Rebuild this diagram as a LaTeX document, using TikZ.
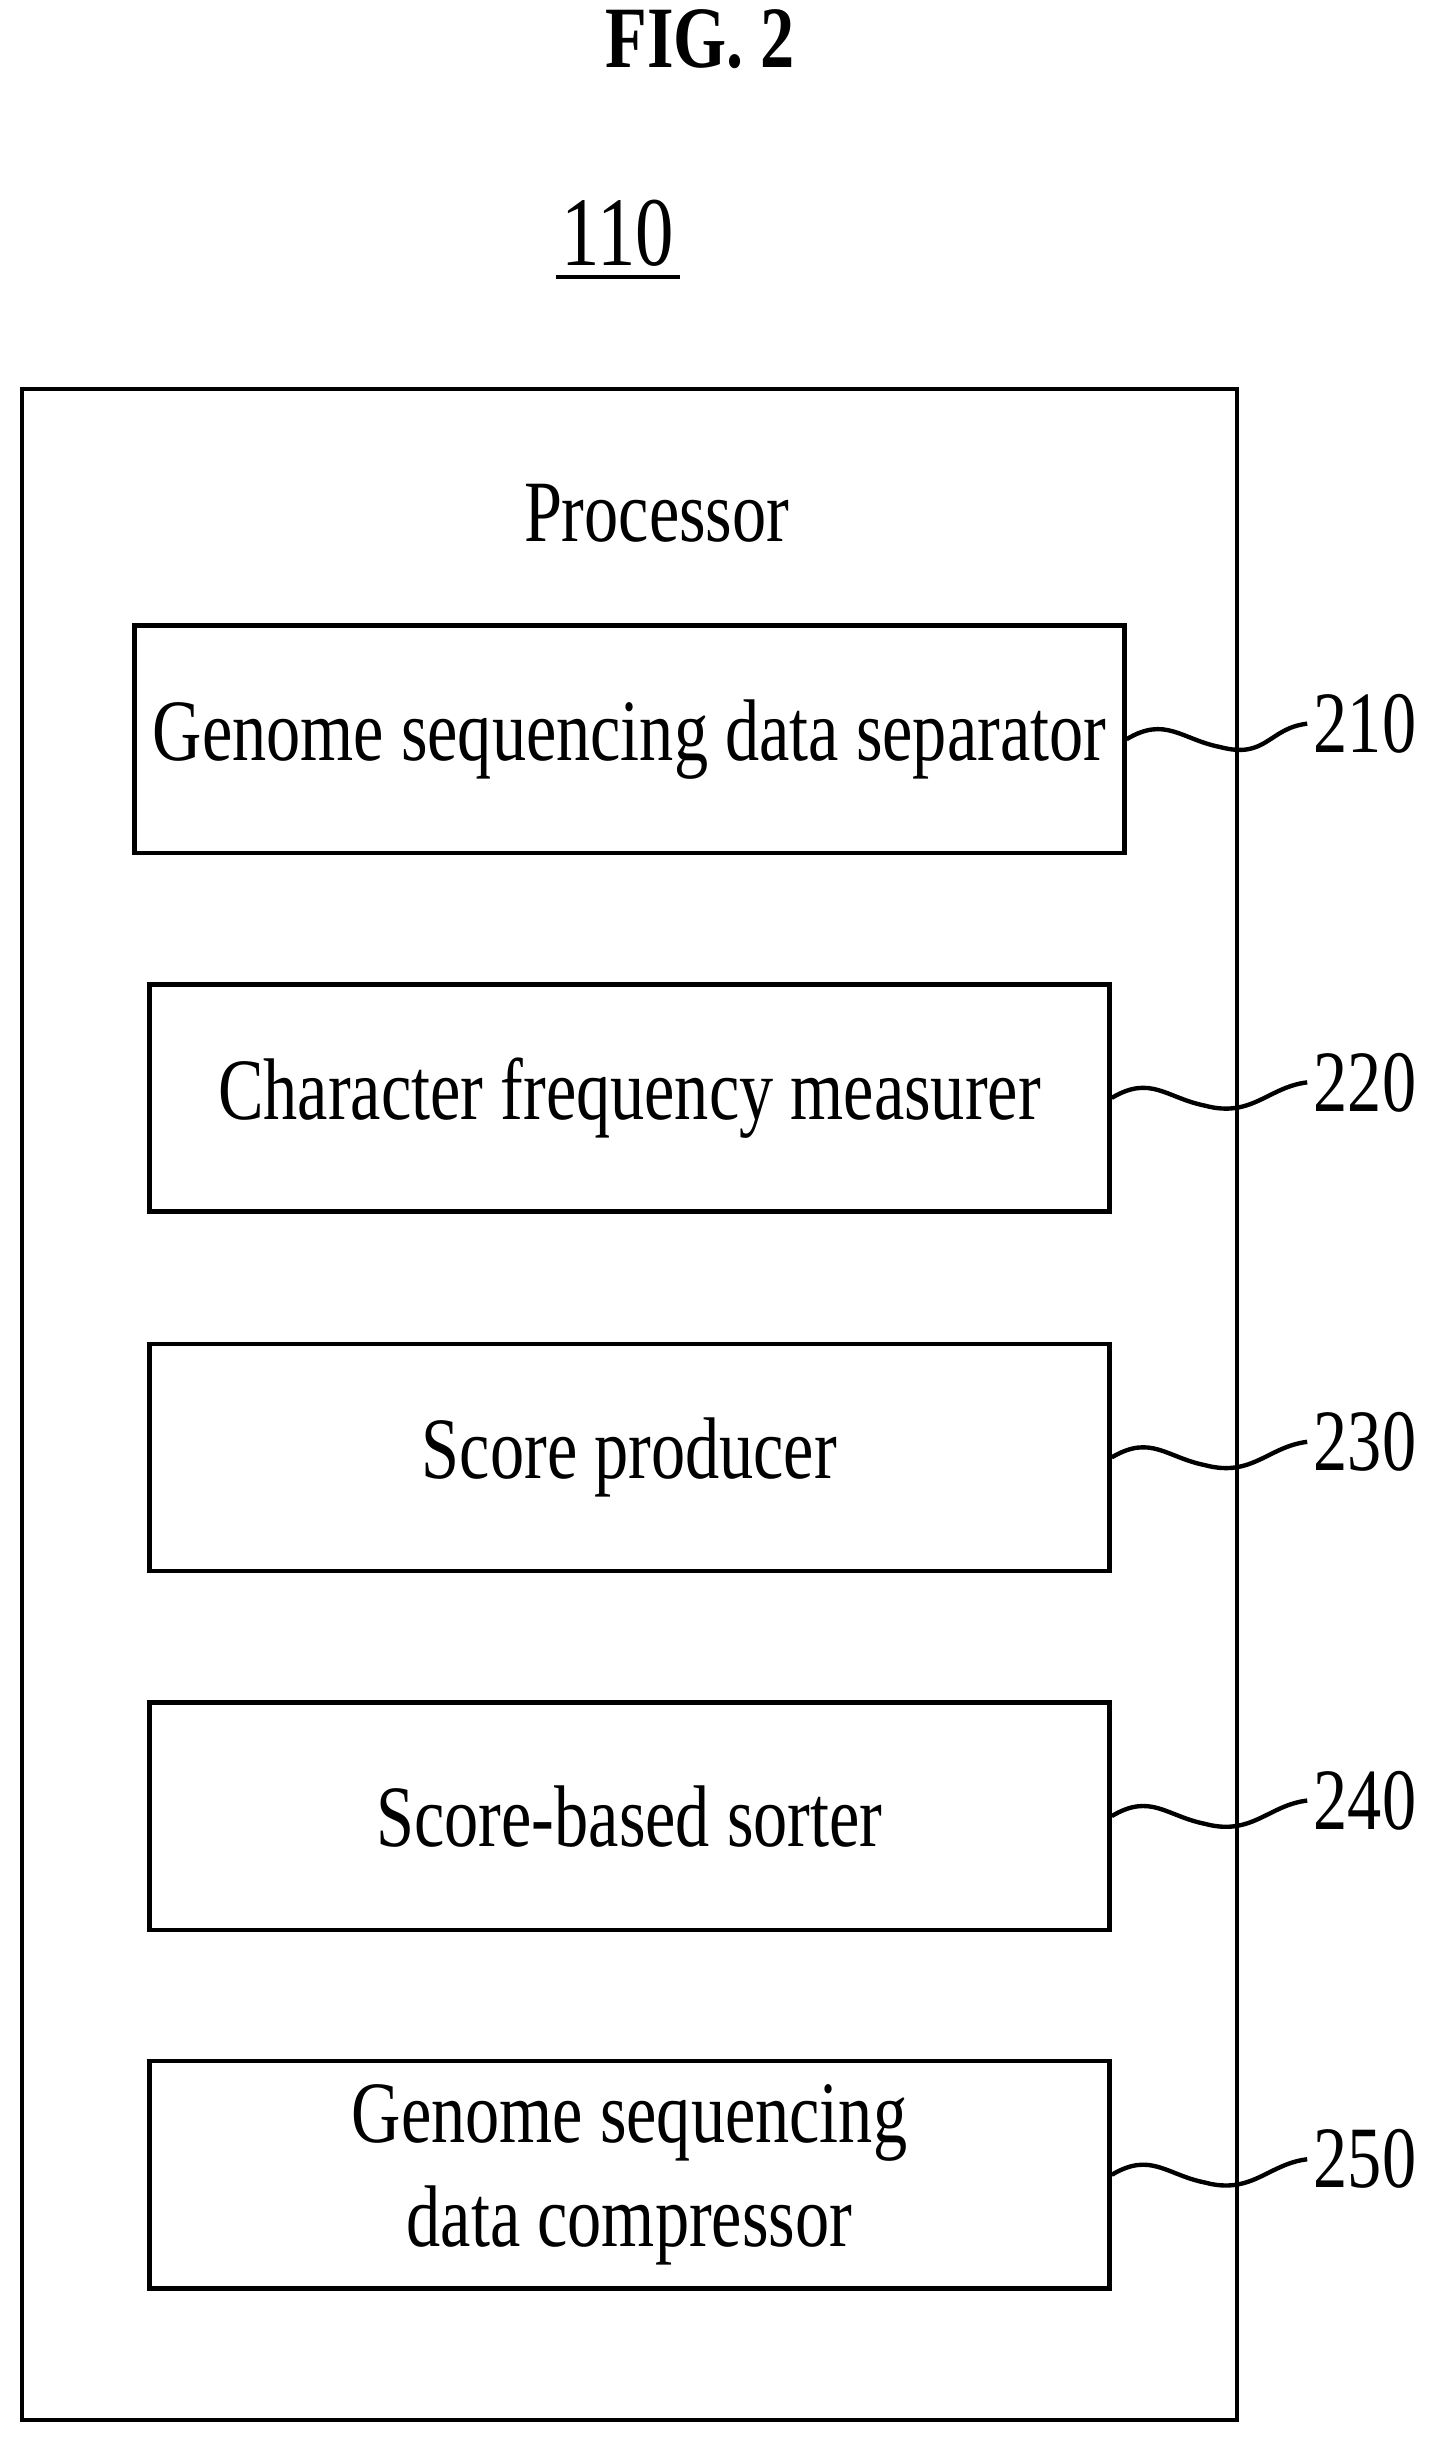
\documentclass[tikz,border=0pt]{standalone}
\usepackage{fontspec}
\setmainfont[FakeStretch=0.78]{Liberation Serif}
\usetikzlibrary{positioning,calc}
\tikzset{
  unit/.style={
    rectangle, draw, line width=0.8pt,
    minimum width=6.17cm, minimum height=1.46cm, align=center,
    font=\fontsize{16}{19}\selectfont
  },
  ref/.style={font=\fontsize{16}{19}\selectfont, anchor=west, inner sep=1pt},
  lead/.style={line width=0.8pt},
}
\begin{document}
\begin{tikzpicture}
\useasboundingbox (0,0) rectangle (9.22,-15.66);

% --- Title and reference ---
\node[font=\bfseries\fontsize{16}{18}\selectfont] (fig) at (4.5,-0.25) {FIG. 2};
\node[font=\fontsize{18}{20}\selectfont] (num) at (3.97,-1.5) {110};
\draw[line width=0.8pt] (3.57,-1.78) -- (4.37,-1.78);

% --- Processor ---
\draw[line width=0.8pt] (0.14,-2.5) rectangle (7.95,-15.55);
\node[font=\fontsize{16}{19}\selectfont] (proc) at (4.22,-3.3) {Processor};

% --- Units ---
\node[unit] (sep)  at (4.045,-4.75)  {Genome sequencing data separator};
\node[unit] (freq) at (4.045,-7.055) {Character frequency measurer};
\node[unit] (scr)  at (4.045,-9.365) {Score producer};
\node[unit] (sort) at (4.045,-11.67) {Score-based sorter};
\node[unit] (comp) at (4.045,-13.975) {Genome sequencing\\data compressor};

% --- Reference numerals ---
\foreach \b/\n in {sep/210, freq/220, scr/230, sort/240, comp/250}{
  \node[ref] (l\n) at ($(8.4,0.1)+(0,0)!(\b.east)!(0,1)$) {\n};
  \draw[lead] (\b.east) .. controls +(0.25,0.15) and +(-0.25,0.05) .. ++(0.6,-0.05)
    .. controls +(0.3,-0.08) and +(-0.25,-0.03) .. (l\n.west);
}

\end{tikzpicture}
\end{document}
